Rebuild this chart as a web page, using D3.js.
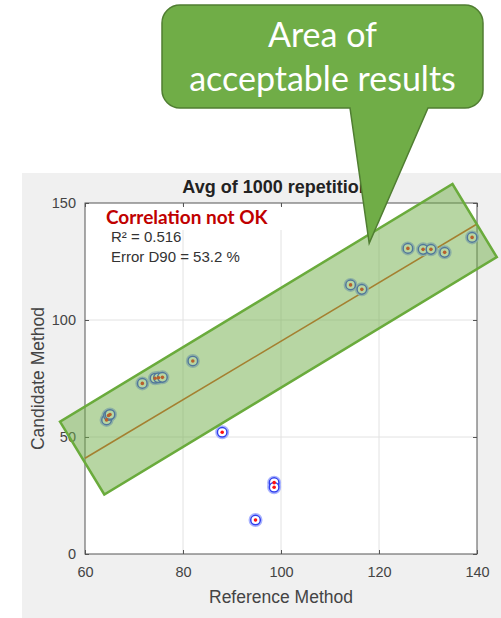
<!DOCTYPE html>
<html>
<head>
<meta charset="utf-8">
<script src="https://cdn.jsdelivr.net/npm/d3@7/dist/d3.min.js"></script>
<style>
  html, body { margin: 0; padding: 0; background: #ffffff; }
  svg { display: block; }
</style>
</head>
<body>
<svg id="chart" width="501" height="618"></svg>
<script>
// ---------- data ----------
const xTicks = [60, 80, 100, 120, 140];
const yTicks = [0, 50, 100, 150];
const xGrid = [80, 100, 120];
const yGrid = [50, 100];

// reference method values (x) and candidate method values (y)
const refValues  = [64.4, 64.8, 65.1, 71.7, 74.3, 75.0, 75.8, 82.0, 88.0, 94.8, 98.6, 98.6, 114.2, 116.5, 125.9, 129.0, 130.6, 133.4, 139.0];
const candValues = [57.3, 59.2, 59.6, 72.9, 75.1, 75.3, 75.5, 82.5, 52.0, 14.5, 30.5, 28.5, 115.0, 113.1, 130.6, 130.2, 130.2, 128.9, 135.3];

// fitted line end points
const fitX = [60, 140];
const fitY = [40.9, 141.0];

// acceptance band corners (data units)
const bandX = [54.9, 63.94, 144.04, 135.0];
const bandY = [56.54, 25.43, 126.84, 158.12];

// callout pointer tip (data units)
const tipX = [118.0];
const tipY = [132.8];

const titleText = "Avg of 1000 repetitions";
const xLabel = "Reference Method";
const yLabel = "Candidate Method";
const noteTitle = "Correlation not OK";
const noteLines = ["R\u00B2 = 0.516", "Error D90 = 53.2 %"];
const calloutLines = ["Area of", "acceptable results"];

// ---------- layout ----------
const svg = d3.select("#chart");
const L = 85, R = 477, T = 203, B = 554;
const x = d3.scaleLinear().domain([60, 140]).range([L, R]);
const y = d3.scaleLinear().domain([0, 150]).range([B, T]);
const axisFont = "'Liberation Sans', Arial, Helvetica, sans-serif";
const textCol = "#444";

// figure background
svg.append("rect").attr("x", 22).attr("y", 173).attr("width", 479).attr("height", 445).attr("fill", "#f0f0f0");
// axes background
svg.append("rect").attr("x", L).attr("y", T).attr("width", R - L).attr("height", B - T).attr("fill", "#ffffff");

// grid
svg.append("g").selectAll("line.gx").data(xGrid).join("line")
  .attr("x1", d => x(d)).attr("x2", d => x(d)).attr("y1", T).attr("y2", B)
  .attr("stroke", "#e2e2e2").attr("stroke-width", 1);
svg.append("g").selectAll("line.gy").data(yGrid).join("line")
  .attr("x1", L).attr("x2", R).attr("y1", d => y(d)).attr("y2", d => y(d))
  .attr("stroke", "#e2e2e2").attr("stroke-width", 1);

// white backing of the annotation text box
svg.append("rect").attr("x", 95).attr("y", 206).attr("width", 205).attr("height", 24).attr("fill", "#ffffff");

// axes
const gx = svg.append("g").attr("transform", `translate(0,${B})`)
  .call(d3.axisBottom(x).tickValues(xTicks).tickSize(-4).tickPadding(12.5).tickFormat(d3.format("d")));
const gy = svg.append("g").attr("transform", `translate(${L},0)`)
  .call(d3.axisLeft(y).tickValues(yTicks).tickSize(-4).tickPadding(9).tickFormat(d3.format("d")));
const gt = svg.append("g").attr("transform", `translate(0,${T})`)
  .call(d3.axisTop(x).tickValues(xTicks).tickSize(-4).tickFormat(""));
const gr = svg.append("g").attr("transform", `translate(${R},0)`)
  .call(d3.axisRight(y).tickValues(yTicks).tickSize(-4).tickFormat(""));
[gx, gy, gt, gr].forEach(g => {
  g.select(".domain").remove();
  g.selectAll(".tick line").attr("stroke", "#555");
  g.selectAll(".tick text").attr("fill", textCol).attr("font-size", 14.5).attr("font-family", axisFont);
});
svg.append("rect").attr("x", L).attr("y", T).attr("width", R - L).attr("height", B - T)
  .attr("fill", "none").attr("stroke", "#555").attr("stroke-width", 1);

// title & labels
svg.append("text").attr("x", (L + R) / 2).attr("y", 193).attr("text-anchor", "middle")
  .attr("font-family", axisFont).attr("font-weight", "bold").attr("font-size", 18).attr("fill", "#222")
  .text(titleText);
svg.append("text").attr("x", (L + R) / 2).attr("y", 603).attr("text-anchor", "middle")
  .attr("font-family", axisFont).attr("font-size", 17.5).attr("fill", textCol).text(xLabel);
svg.append("text").attr("transform", `translate(44,${(T + B) / 2}) rotate(-90)`).attr("text-anchor", "middle")
  .attr("font-family", axisFont).attr("font-size", 17.5).attr("fill", textCol).text(yLabel);

// annotation text
svg.append("text").attr("x", 106).attr("y", 224)
  .attr("font-family", "Lato, 'Open Sans', sans-serif").attr("font-weight", "bold").attr("font-size", 19)
  .attr("fill", "#c00000").text(noteTitle);
svg.append("g").selectAll("text").data(noteLines).join("text")
  .attr("x", 111).attr("y", (d, i) => 242 + i * 20)
  .attr("font-family", axisFont).attr("font-size", 15).attr("fill", "#333").text(d => d);

// fit line
svg.append("line")
  .attr("x1", x(fitX[0])).attr("y1", y(fitY[0])).attr("x2", x(fitX[1])).attr("y2", y(fitY[1]))
  .attr("stroke", "#d95319").attr("stroke-width", 1.6);

// points
const pts = refValues.map((v, i) => ({ x: v, y: candValues[i] }));
const gp = svg.append("g");
gp.selectAll("circle.halo").data(pts).join("circle").attr("class", "halo")
  .attr("cx", d => x(d.x)).attr("cy", d => y(d.y)).attr("r", 6.2)
  .attr("fill", "none").attr("stroke", "#aab4ff").attr("stroke-width", 1.6);
gp.selectAll("circle.ring").data(pts).join("circle").attr("class", "ring")
  .attr("cx", d => x(d.x)).attr("cy", d => y(d.y)).attr("r", 4.8)
  .attr("fill", "#ffffff").attr("stroke", "#3040ee").attr("stroke-width", 1.5);
gp.selectAll("circle.dot").data(pts).join("circle").attr("class", "dot")
  .attr("cx", d => x(d.x)).attr("cy", d => y(d.y)).attr("r", 1.8)
  .attr("fill", "#ff1010");

// acceptance band
const bandPts = bandX.map((v, i) => [x(v), y(bandY[i])]);
svg.append("path").attr("d", d3.line()(bandPts) + "Z")
  .attr("fill", "#70ad47").attr("fill-opacity", 0.5)
  .attr("stroke", "#6aab3c").attr("stroke-width", 2.5).attr("stroke-linejoin", "miter");

// callout
const bx0 = 162, bx1 = 483, by0 = 5, by1 = 108, rr = 18, pb0 = 350, pb1 = 428;
const tx = x(tipX[0]), ty = y(tipY[0]);
const cp = d3.path();
cp.moveTo(bx0 + rr, by0);
cp.lineTo(bx1 - rr, by0);
cp.arcTo(bx1, by0, bx1, by0 + rr, rr);
cp.lineTo(bx1, by1 - rr);
cp.arcTo(bx1, by1, bx1 - rr, by1, rr);
cp.lineTo(pb1, by1);
cp.lineTo(tx, ty);
cp.lineTo(pb0, by1);
cp.lineTo(bx0 + rr, by1);
cp.arcTo(bx0, by1, bx0, by1 - rr, rr);
cp.lineTo(bx0, by0 + rr);
cp.arcTo(bx0, by0, bx0 + rr, by0, rr);
cp.closePath();
svg.append("path").attr("d", cp.toString())
  .attr("fill", "#70ad47").attr("stroke", "#507e32").attr("stroke-width", 1.5);
svg.append("g").selectAll("text").data(calloutLines).join("text")
  .attr("x", (bx0 + bx1) / 2).attr("y", (d, i) => 47 + i * 44).attr("text-anchor", "middle")
  .attr("font-family", "Lato, 'Open Sans', sans-serif").attr("font-size", 34).attr("fill", "#ffffff")
  .text(d => d);
</script>
</body>
</html>
